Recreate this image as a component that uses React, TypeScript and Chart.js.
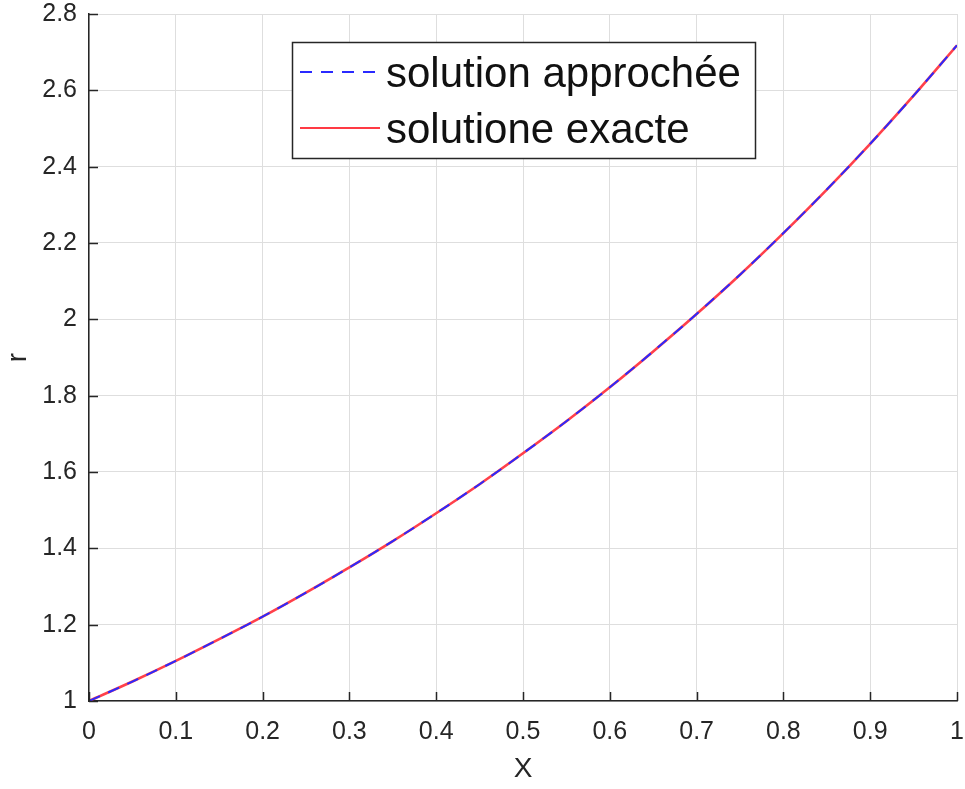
import React, { useEffect, useRef } from "react";
import { Chart, registerables } from "chart.js";

Chart.register(...registerables);

const xValues = [0, 0.05, 0.1, 0.15, 0.2, 0.25, 0.3, 0.35, 0.4, 0.45, 0.5, 0.55, 0.6, 0.65, 0.7, 0.75, 0.8, 0.85, 0.9, 0.95, 1.0];
const approxValues = [1.0, 1.051, 1.105, 1.162, 1.221, 1.284, 1.35, 1.419, 1.492, 1.568, 1.649, 1.733, 1.822, 1.916, 2.014, 2.117, 2.226, 2.34, 2.46, 2.586, 2.718];
const exactValues = [1.0, 1.051, 1.105, 1.162, 1.221, 1.284, 1.35, 1.419, 1.492, 1.568, 1.649, 1.733, 1.822, 1.916, 2.014, 2.117, 2.226, 2.34, 2.46, 2.586, 2.718];
const seriesLabels = ["solution approchée", "solutione exacte"];
const xTitle = "X";
const yTitle = "r";

const AXIS = "#262626";
const GRID = "#dedede";
const FONT = "'Liberation Sans', Arial, Helvetica, sans-serif";

const fmt = (v: number) => String(Number(Number(v).toFixed(1)));

const zeroPad = (scale: any) => {
  scale.paddingLeft = 0;
  scale.paddingRight = 0;
  scale.paddingTop = 0;
  scale.paddingBottom = 0;
};

const innerTicks = {
  id: "innerTicks",
  afterDraw(chart: any) {
    const { ctx, chartArea } = chart;
    const xs = chart.scales.x;
    const ys = chart.scales.y;
    ctx.save();
    ctx.strokeStyle = AXIS;
    ctx.lineWidth = 1.5;
    ctx.beginPath();
    ys.ticks.forEach((t: any) => {
      const py = Math.round(ys.getPixelForValue(t.value)) + 0.5;
      ctx.moveTo(chartArea.left, py);
      ctx.lineTo(chartArea.left + 9, py);
    });
    xs.ticks.forEach((t: any) => {
      const px = Math.round(xs.getPixelForValue(t.value)) + 0.5;
      ctx.moveTo(px, chartArea.bottom);
      ctx.lineTo(px, chartArea.bottom - 9);
    });
    ctx.stroke();
    ctx.restore();
  },
};

const boxLegend = {
  id: "boxLegend",
  afterDraw(chart: any) {
    const { ctx } = chart;
    const ds = chart.data.datasets;
    const x0 = 292, y0 = 42, w = 463, h = 116;
    ctx.save();
    ctx.fillStyle = "#ffffff";
    ctx.fillRect(x0, y0, w, h);
    ctx.strokeStyle = AXIS;
    ctx.lineWidth = 1.5;
    ctx.strokeRect(x0 + 0.5, y0 + 0.5, w, h);
    const rows = [72, 128];
    const legendColors = ["#2a2aff", "#ff3a44"];
    ds.forEach((d: any, i: number) => {
      const yy = rows[i];
      ctx.beginPath();
      ctx.strokeStyle = legendColors[i];
      ctx.lineWidth = 2;
      ctx.setLineDash(d.borderDash || []);
      ctx.moveTo(300, yy);
      ctx.lineTo(380, yy);
      ctx.stroke();
      ctx.setLineDash([]);
      ctx.fillStyle = "#111111";
      ctx.font = `42px ${FONT}`;
      ctx.textBaseline = "middle";
      ctx.textAlign = "left";
      ctx.fillText(d.label, 386, yy + 3);
    });
    ctx.restore();
  },
};

export default function App() {
  const ref = useRef<HTMLCanvasElement | null>(null);

  useEffect(() => {
    if (!ref.current) return;
    const chart = new Chart(ref.current, {
      type: "line",
      data: {
        datasets: [
          {
            label: seriesLabels[0],
            data: xValues.map((x, i) => ({ x, y: approxValues[i] })),
            borderColor: "#2a2aff",
            borderWidth: 2,
            borderDash: [12, 9],
            pointRadius: 0,
            cubicInterpolationMode: "monotone",
            fill: false,
          },
          {
            label: seriesLabels[1],
            data: xValues.map((x, i) => ({ x, y: exactValues[i] })),
            borderColor: "rgba(255,50,60,0.93)",
            borderWidth: 2.6,
            pointRadius: 0,
            cubicInterpolationMode: "monotone",
            fill: false,
          },
        ],
      },
      options: {
        animation: false,
        responsive: false,
        maintainAspectRatio: false,
        layout: { padding: { left: 0, top: 14, right: 8, bottom: 0 } },
        plugins: {
          legend: { display: false },
          tooltip: { enabled: false },
        },
        scales: {
          x: {
            type: "linear",
            min: 0,
            max: 1,
            afterFit: (scale: any) => {
              scale.height = 88;
              zeroPad(scale);
            },
            ticks: {
              stepSize: 0.1,
              padding: 16,
              color: AXIS,
              font: { family: FONT, size: 25 },
              callback: (v: any) => fmt(v),
              maxRotation: 0,
              autoSkip: false,
            },
            grid: { color: GRID, lineWidth: 1, drawTicks: false },
            border: { display: true, color: AXIS, width: 1.5 },
            title: {
              display: true,
              text: xTitle,
              color: AXIS,
              font: { family: FONT, size: 28 },
              padding: { top: 0, bottom: 3 },
            },
          },
          y: {
            type: "linear",
            min: 1,
            max: 2.8,
            afterFit: (scale: any) => {
              scale.width = 89;
              zeroPad(scale);
            },
            ticks: {
              stepSize: 0.2,
              padding: 12,
              color: AXIS,
              font: { family: FONT, size: 25 },
              callback: (v: any) => fmt(v),
              autoSkip: false,
            },
            grid: { color: GRID, lineWidth: 1, drawTicks: false },
            border: { display: true, color: AXIS, width: 1.5 },
            title: {
              display: true,
              text: yTitle,
              color: AXIS,
              font: { family: FONT, size: 28, lineHeight: 1 },
              padding: { top: 4, bottom: 0 },
            },
          },
        },
      },
      plugins: [innerTicks, boxLegend],
    } as any);
    return () => chart.destroy();
  }, []);

  return (
    <div style={{ position: "fixed", left: 0, top: 0, width: 965, height: 789, background: "#fff" }}>
      <canvas ref={ref} width={965} height={789} style={{ display: "block", width: 965, height: 789 }} />
    </div>
  );
}
